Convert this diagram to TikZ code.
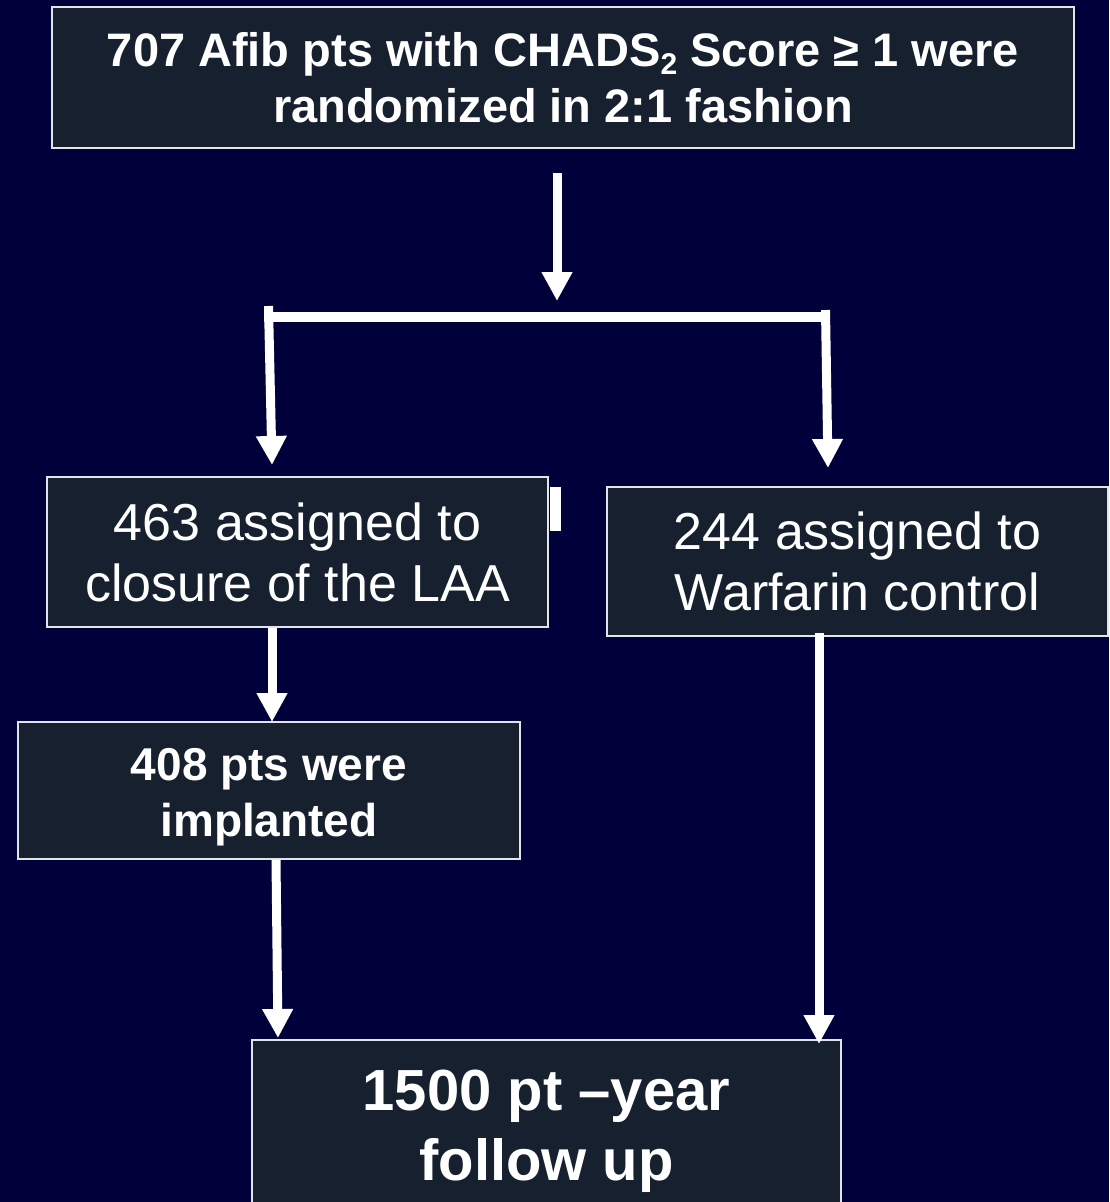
\documentclass[tikz,border=0pt]{standalone}
\usepackage{fontspec}
\setmainfont{Liberation Sans}
\usetikzlibrary{arrows.meta}
\definecolor{bgnavy}{RGB}{0,0,58}
\definecolor{boxfill}{RGB}{23,32,47}
\definecolor{boxline}{RGB}{225,228,232}
\begin{document}
\begin{tikzpicture}[x=1pt,y=-1pt,
  box/.style={draw=boxline, line width=2pt, fill=boxfill, text=white, inner sep=0pt, align=center},
  arr/.style={draw=white, line width=9pt, -{Triangle[length=29pt,width=29pt]}},
  bar/.style={draw=white, line width=10pt},
  toptxt/.style={font=\fontsize{47pt}{56pt}\selectfont\bfseries},
  boldtxt/.style={font=\fontsize{46pt}{56pt}\selectfont\bfseries},
  regtxt/.style={font=\fontsize{52pt}{61pt}\selectfont},
  bigtxt/.style={font=\fontsize{58pt}{70pt}\selectfont\bfseries}]
\clip (0,0) rectangle (1109,1202);
\fill[bgnavy] (0,0) rectangle (1109,1202);

% boxes
\node[box, toptxt, minimum width=1022pt, minimum height=141pt] (top) at (563,77.5)
  {707 Afib pts with CHADS\raisebox{-0.35ex}{\fontsize{30pt}{30pt}\selectfont 2} Score ≥ 1 were\\randomized in 2:1 fashion};
\node[box, regtxt, minimum width=501pt, minimum height=150pt] (lft) at (297.5,552)
  {463 assigned to\\closure of the LAA};
\node[box, regtxt, minimum width=501pt, minimum height=149pt] (rgt) at (857.5,561.5)
  {244 assigned to\\Warfarin control};
\node[box, boldtxt, minimum width=502pt, minimum height=137pt] (imp) at (269,790.5)
  {\rule{0pt}{45pt}408 pts were\\implanted};
\node[box, bigtxt, minimum width=589pt, minimum height=172pt] (fol) at (546.5,1126)
  {\rule{0pt}{52pt}1500 pt –year\\follow up};

% small mark beside the left box
\fill[white] (550,487) rectangle (561,531);

% split from the top box
\coordinate (s0) at (557,173);
\coordinate (s1) at (557,301);
\draw[arr] (s0) -- (s1);
\coordinate (bl) at (264,317);
\coordinate (br) at (830,317);
\draw[bar] (bl) -- (br);
\coordinate (l0) at (268.5,306);
\coordinate (l1) at (272,465);
\draw[arr] (l0) -- (l1);
\coordinate (r0) at (825.5,310);
\coordinate (r1) at (828,468);
\draw[arr] (r0) -- (r1);

% left column
\coordinate (c1) at (272,0);
\draw[arr] (lft.south -| c1) -- ([yshift=-1pt]imp.north -| c1);
\coordinate (c2) at (276,860);
\coordinate (c3) at (278,1038);
\draw[arr] (c2) -- (c3);

% right column
\coordinate (c4) at (819,633);
\draw[arr] (c4) -- ([yshift=-5pt]fol.north -| c4);
\end{tikzpicture}
\end{document}
